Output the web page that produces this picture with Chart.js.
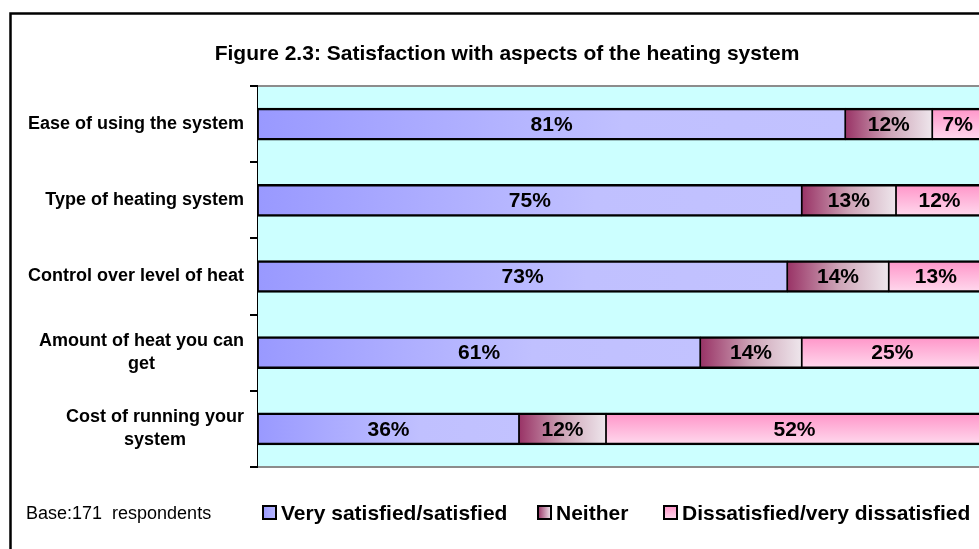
<!DOCTYPE html>
<html><head><meta charset="utf-8">
<script src="https://cdn.jsdelivr.net/npm/chart.js@4/dist/chart.umd.min.js"></script>
<style>
html,body{margin:0;padding:0;background:#fff;overflow:hidden;width:979px;height:549px}
#wrap{position:absolute;left:0;top:0;width:1000px;height:549px}
</style>
</head><body><div id="wrap"><canvas id="c" width="1000" height="549"></canvas></div>
<script>
const categories = [["Ease of using the system"],["Type of heating system"],["Control over level of heat"],["Amount of heat you can","get"],["Cost of running your","system"]];
const verySatisfied = [81,75,73,61,36];
const neither = [12,13,14,14,12];
const dissatisfied = [7,12,13,25,52];
const seriesNames = ["Very satisfied/satisfied","Neither","Dissatisfied/very dissatisfied"];
const titleText = "Figure 2.3: Satisfaction with aspects of the heating system";
const baseText = "Base:171  respondents";

const FONT = "'Liberation Sans', Arial, sans-serif";
const BAR_H = 32;

function segRange(chart, dsIndex, i){
  const xs = chart.scales.x;
  let start = 0;
  for (let d = 0; d < dsIndex; d++) start += chart.data.datasets[d].data[i];
  const end = start + chart.data.datasets[dsIndex].data[i];
  return [xs.getPixelForValue(start), xs.getPixelForValue(end)];
}
function blueFill(c){
  const chart = c.chart;
  if (!chart.chartArea || c.type !== 'data') return '#A8A8FF';
  const [a,b] = segRange(chart, c.datasetIndex, c.dataIndex);
  const g = chart.ctx.createLinearGradient(a,0,b,0);
  g.addColorStop(0,'#9999FF'); g.addColorStop(0.62,'#C0C0FF'); g.addColorStop(1,'#C2C2FF');
  return g;
}
function neitherFill(c){
  const chart = c.chart;
  if (!chart.chartArea || c.type !== 'data') return '#C090A8';
  const [a,b] = segRange(chart, c.datasetIndex, c.dataIndex);
  const g = chart.ctx.createLinearGradient(a,0,b,0);
  g.addColorStop(0,'#993366'); g.addColorStop(0.5,'#CDA3B6'); g.addColorStop(1,'#EEE6EC');
  return g;
}
function pinkFill(c){
  const chart = c.chart;
  if (!chart.chartArea || c.type !== 'data') return '#FFB8DC';
  const yc = chart.scales.y.getPixelForValue(c.dataIndex);
  const g = chart.ctx.createLinearGradient(0,yc-BAR_H/2,0,yc+BAR_H/2);
  g.addColorStop(0,'#FF94C8'); g.addColorStop(1,'#FFDAEE');
  return g;
}

const bgPlugin = {
  id:'bg',
  beforeDatasetsDraw(chart){
    const {ctx, chartArea:a} = chart;
    ctx.save();
    ctx.fillStyle = '#CCFFFF';
    ctx.fillRect(a.left, a.top, a.right-a.left, a.bottom-a.top);
    ctx.strokeStyle = '#8C8C8C'; ctx.lineWidth = 2;
    ctx.beginPath();
    ctx.moveTo(a.left, a.top); ctx.lineTo(a.right+20, a.top);
    ctx.moveTo(a.left, a.bottom); ctx.lineTo(a.right+20, a.bottom);
    ctx.stroke();
    ctx.restore();
  }
};

const textPlugin = {
  id:'texts',
  afterDraw(chart){
    const ctx = chart.ctx;
    ctx.save();
    // data labels
    ctx.fillStyle = '#000';
    ctx.font = "bold 21px " + FONT;
    ctx.textAlign = 'center'; ctx.textBaseline = 'middle';
    chart.data.datasets.forEach((ds, di) => {
      const meta = chart.getDatasetMeta(di);
      meta.data.forEach((el, i) => {
        const p = el.getProps(['x','base','y'], true);
        ctx.fillText(ds.data[i] + '%', (p.x + p.base)/2, p.y + 1);
      });
    });
    // category labels
    const ys = chart.scales.y;
    ctx.font = "bold 18px " + FONT;
    const right = chart.chartArea.left - 14;
    categories.forEach((lines, i) => {
      const yc = ys.getPixelForValue(i);
      const w = Math.max(...lines.map(l => ctx.measureText(l).width));
      const cx = right - w/2;
      const lh = 23;
      lines.forEach((l, k) => {
        ctx.fillText(l, cx, yc + (k - (lines.length-1)/2)*lh);
      });
    });
    // title
    ctx.font = "bold 21px " + FONT;
    ctx.textBaseline = 'alphabetic';
    ctx.fillText(titleText, 507, 60);
    // base note
    ctx.textAlign = 'left';
    ctx.font = "18px " + FONT;
    ctx.fillText(baseText, 26, 519);
    // legend
    const fills = [
      (x,y,w,h)=>{const g=ctx.createLinearGradient(x,0,x+w,0);g.addColorStop(0,'#9999FF');g.addColorStop(1,'#B8B8FF');return g;},
      (x,y,w,h)=>{const g=ctx.createLinearGradient(x,0,x+w,0);g.addColorStop(0,'#993366');g.addColorStop(1,'#EEE6EC');return g;},
      (x,y,w,h)=>{const g=ctx.createLinearGradient(0,y,0,y+h);g.addColorStop(0,'#FF94C8');g.addColorStop(1,'#FFDAEE');return g;}
    ];
    const legX = [263, 538, 664];
    ctx.font = "bold 21px " + FONT;
    seriesNames.forEach((n, k) => {
      const bx = legX[k], by = 506, bs = 13;
      ctx.fillStyle = fills[k](bx,by,bs,bs);
      ctx.fillRect(bx, by, bs, bs);
      ctx.strokeStyle = '#000'; ctx.lineWidth = 2;
      ctx.strokeRect(bx, by, bs, bs);
      ctx.fillStyle = '#000';
      ctx.fillText(n, bx + bs + 5, 520);
    });
    // outer frame
    ctx.strokeStyle = '#000'; ctx.lineWidth = 2.5;
    ctx.strokeRect(10.5, 13.5, 1200, 700);
    ctx.restore();
  }
};

new Chart(document.getElementById('c'), {
  type:'bar',
  data:{
    labels: categories.map(l => l.join(' ')),
    datasets:[
      {label: seriesNames[0], data: verySatisfied, backgroundColor: blueFill},
      {label: seriesNames[1], data: neither, backgroundColor: neitherFill},
      {label: seriesNames[2], data: dissatisfied, backgroundColor: pinkFill}
    ]
  },
  options:{
    indexAxis:'y',
    responsive:false,
    animation:false,
    devicePixelRatio:1,
    layout:{padding:{left:0, top:86, right:17, bottom:82}},
    datasets:{bar:{barThickness:BAR_H, borderColor:'#000', borderWidth:{top:2.5,bottom:2.5,left:1.2,right:1.2}, borderSkipped:false}},
    plugins:{legend:{display:false}, title:{display:false}, tooltip:{enabled:false}},
    scales:{
      x:{stacked:true, min:0, max:100, display:false},
      y:{stacked:true, position:'left',
         afterFit(s){ s.width = 258; },
         ticks:{display:false},
         grid:{offset:true, drawOnChartArea:false, drawTicks:true, tickLength:8, color:'#000', lineWidth:2},
         border:{display:true, color:'#000', width:3}
      }
    }
  },
  plugins:[bgPlugin, textPlugin]
});
</script>
</body></html>
